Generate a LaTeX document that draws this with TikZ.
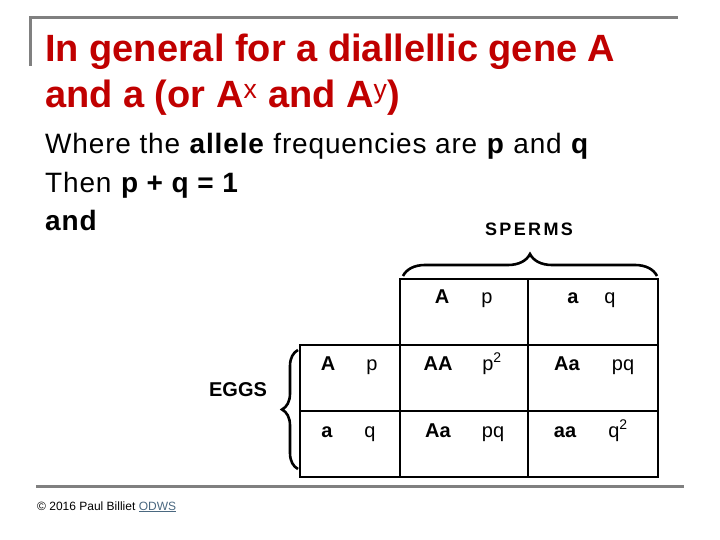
\documentclass[tikz,border=0pt]{standalone}
\usepackage{fontspec}
\setmainfont{Liberation Sans}
\usetikzlibrary{decorations.pathreplacing}

\definecolor{titlered}{RGB}{192,0,0}
\definecolor{rulegray}{RGB}{128,128,128}
\definecolor{linkgray}{RGB}{74,104,128}

\begin{document}
\begin{tikzpicture}[
        x=1pt, y=-1pt,
        ttl/.style={anchor=base west, inner sep=0pt, text=titlered, font=\fontsize{38}{44}\selectfont\bfseries},
        body/.style={anchor=base west, inner sep=0pt, font=\fontsize{28}{34}\selectfont\addfontfeature{LetterSpace=3}},
        side/.style={anchor=base, inner sep=0pt, font=\fontsize{20}{24}\selectfont\bfseries},
        cell/.style={anchor=base, inner sep=0pt, font=\fontsize{20}{24}\selectfont},
        geno/.style={cell, font=\fontsize{20}{24}\selectfont\bfseries},
        rule/.style={draw=rulegray, line width=3pt},
        grid/.style={draw=black, line width=2.4pt},
        brace/.style={decorate, decoration={brace, amplitude=#1}, draw=black, line width=2.6pt}
    ]
        \useasboundingbox (0,0) rectangle (720,540);

        % --- Frame lines ---
        \draw[rule] (30,66) -- (30,18) -- (678,18);
        \draw[rule] (36,486) -- (684,486);

        % --- Title ---
        \node[ttl] (ttla) at (45, 62)  {In general for a diallellic gene A};
        \node[ttl] (ttlb) at (45, 108) {and a (or A\textsuperscript{\mdseries x} and A\textsuperscript{\mdseries y})};

        % --- Text ---
        \node[body] (txta) at (45, 154) {Where the \textbf{allele} frequencies are \textbf{p} and \textbf{q}};
        \node[body] (txtb) at (45, 193) {Then \textbf{p + q = 1}};
        \node[body] (txtc) at (45, 230) {\textbf{and}};

        % --- Punnett square ---
        \draw[grid] (400,279) rectangle (658,477);
        \draw[grid] (300,345) rectangle (400,477);
        \draw[grid] (300,345) -- (658,345);
        \draw[grid] (300,411) -- (658,411);
        \draw[grid] (528,279) -- (528,477);

        \coordinate (spl) at (403,276);
        \coordinate (spr) at (657,276);
        \coordinate (egb) at (298,469);
        \coordinate (egt) at (298,350);
        \draw[brace=22pt] (spl) -- (spr);
        \draw[brace=16pt] (egb) -- (egt);

        \node[side, font=\fontsize{18}{22}\selectfont\bfseries\addfontfeature{LetterSpace=13}] (sperms) at (529, 236) {SPERMS};
        \node[side] (eggs) at (238, 396) {EGGS};

        % header row (sperms)
        \node[geno] (hdrA) at (442, 303) {A};
        \node[cell] (hdrp) at (487, 303) {p};
        \node[geno] (hdra) at (573, 303) {a};
        \node[cell] (hdrq) at (610, 303) {q};

        % first row (egg A)
        \node[geno] (eggA) at (328, 370) {A};
        \node[cell] (eggp) at (372, 370) {p};
        \node[geno] (AA)   at (438, 370) {AA};
        \node[cell] (pp)   at (492, 370) {p\textsuperscript{2}};
        \node[geno] (Aa1)  at (567, 370) {Aa};
        \node[cell] (pq1)  at (623, 370) {pq};

        % second row (egg a)
        \node[geno] (egga) at (327, 437) {a};
        \node[cell] (eggq) at (370, 437) {q};
        \node[geno] (Aa2)  at (438, 437) {Aa};
        \node[cell] (pq2)  at (493, 437) {pq};
        \node[geno] (aa)   at (565, 437) {aa};
        \node[cell] (qq)   at (618, 437) {q\textsuperscript{2}};

        % --- Footer ---
        \node[anchor=base west, inner sep=0pt, font=\fontsize{12}{14}\selectfont] (copy) at (37, 510)
            {\textcopyright{} 2016 Paul Billiet \textcolor{linkgray}{\underline{ODWS}}};
\end{tikzpicture}
\end{document}
